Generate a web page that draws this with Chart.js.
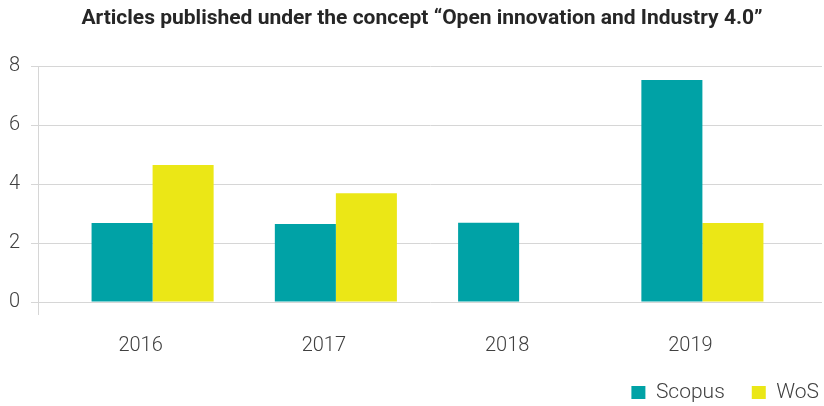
<!DOCTYPE html>
<html><head><meta charset="utf-8">
<script src="https://cdn.jsdelivr.net/npm/chart.js@4"></script>
<style>html,body{margin:0;padding:0;background:#fff}</style>
</head><body>
<canvas id="c" width="824" height="406"></canvas>
<script>
const years = ['2016', '2017', '2018', '2019'];
const scopus = [2.68, 2.65, 2.69, 7.53];
const wos = [4.65, 3.69, 0, 2.68];
const yMin = 0, yMax = 8, yStep = 2;

const labelFont = { family: 'Roboto', size: 20, weight: 300 };
const textColor = '#404040';
const gridColor = '#d6d6d6';

// nudges title/legend boxes horizontally/vertically after layout
const boxShift = {
  id: 'boxShift',
  afterLayout(chart) {
    const t = chart.titleBlock;
    if (t) { t.left += 11; t.right += 11; }
    const lg = chart.legend;
    if (lg) {
      const dx = 24, dy = -3;
      lg.left += dx; lg.right += dx; lg.top += dy; lg.bottom += dy;
    }
  }
};

// continues the vertical axis line a little below the zero line
const axisStub = {
  id: 'axisStub',
  afterDraw(chart) {
    const { ctx, chartArea } = chart;
    const x = Math.round(chartArea.left) + 0.5;
    ctx.save();
    ctx.strokeStyle = gridColor;
    ctx.lineWidth = 1;
    ctx.beginPath();
    ctx.moveTo(x, chartArea.bottom);
    ctx.lineTo(x, chartArea.bottom + 13);
    ctx.stroke();
    ctx.restore();
  }
};

new Chart(document.getElementById('c'), {
  type: 'bar',
  data: {
    datasets: [
      { label: 'Scopus', data: years.map((y, i) => ({ x: i, y: scopus[i] })), backgroundColor: '#00A2A6', borderWidth: 0 },
      { label: 'WoS', data: years.map((y, i) => ({ x: i, y: wos[i] })), backgroundColor: '#EBE716', borderWidth: 0 }
    ]
  },
  options: {
    responsive: false,
    devicePixelRatio: 1,
    animation: false,
    categoryPercentage: 0.666,
    barPercentage: 1,
    layout: { padding: { left: 0, right: 2, top: 0, bottom: -10 } },
    scales: {
      x: {
        type: 'linear',
        offset: false,
        min: -0.6253,
        max: 3.6526,
        afterBuildTicks: s => { s.ticks = years.map((_, i) => ({ value: i })); },
        afterFit: s => { s.height = 56; },
        ticks: {
          callback: v => years[v],
          autoSkip: false, maxRotation: 0,
          labelOffset: -12, padding: 32,
          font: labelFont, color: textColor
        },
        grid: { display: false, drawTicks: false, offset: false },
        border: { display: false }
      },
      y: {
        min: yMin, max: yMax,
        afterFit: s => { s.width = 38; },
        ticks: { stepSize: yStep, padding: 11, font: labelFont, color: textColor },
        grid: { color: gridColor, lineWidth: 1, tickLength: 7 },
        border: { display: true, color: gridColor, width: 1 }
      }
    },
    plugins: {
      title: {
        display: true,
        text: 'Articles published under the concept \u201cOpen innovation and Industry 4.0\u201d',
        font: { family: 'Roboto', size: 21, weight: 'bold' },
        color: '#262626',
        padding: { top: 6, bottom: 35 }
      },
      legend: {
        position: 'bottom',
        align: 'end',
        labels: {
          boxWidth: 14, boxHeight: 13, padding: 27,
          font: { family: 'Roboto', size: 21, weight: 300 },
          color: textColor
        }
      },
      tooltip: { enabled: false }
    }
  },
  plugins: [boxShift, axisStub]
});
</script>
</body></html>
